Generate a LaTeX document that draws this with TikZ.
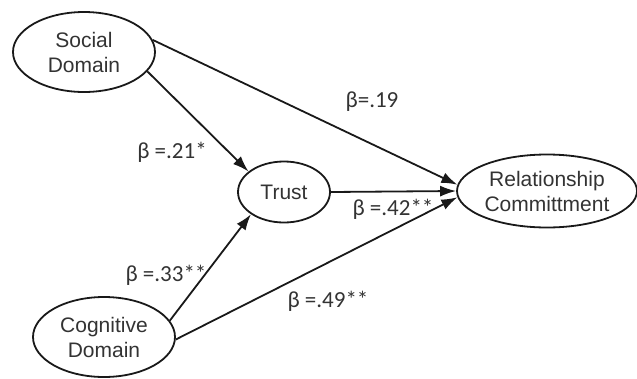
\documentclass[tikz,border=0pt]{standalone}
\usepackage{fontspec}
\setmainfont{Liberation Sans}
\newfontfamily\coeffont{Carlito}
\usetikzlibrary{arrows.meta,shapes.geometric}

\begin{document}
\begin{tikzpicture}[
  x=1pt, y=-1pt,
  construct/.style={ellipse, draw=black!90, line width=1.8pt, inner sep=0pt, align=center,
    text=black!80, font=\fontsize{21}{25}\selectfont},
  coef/.style={inner sep=0pt, text=black!80, font=\coeffont\fontsize{23}{26}\selectfont},
  effect/.style={-{Latex[length=16pt,width=11pt]}, line width=1.8pt, draw=black!90}
]
\useasboundingbox (0,0) rectangle (637,378);

% latent constructs
\node[construct, minimum width=142pt, minimum height=80pt] (social) at (84,52) {Social\\Domain};
\node[construct, minimum width=92pt, minimum height=61pt] (trust) at (284,192) {Trust};
\node[construct, minimum width=180pt, minimum height=73pt] (commit) at (547,191) {Relationship\\Committment};
\node[construct, minimum width=142pt, minimum height=80pt] (cognitive) at (104,337) {Cognitive\\Domain};

% path coefficients
\node[coef] (b19) at (372,102) {β=.19};
\node[coef] (b21) at (172,152) {β =.21*};
\node[coef] (b42) at (393,209) {β =.42**};
\node[coef] (b33) at (166,275) {β =.33**};
\node[coef] (b49) at (328,301) {β =.49**};

% paths
\draw[effect] (social.10) -- (commit.176);
\draw[effect] (social.-17) -- (trust.150);
\draw[effect] (trust.east) -- (commit.west);
\draw[effect] (cognitive.14) -- (trust.214);
\draw[effect] (cognitive.-2) -- (commit.184);
\end{tikzpicture}
\end{document}
